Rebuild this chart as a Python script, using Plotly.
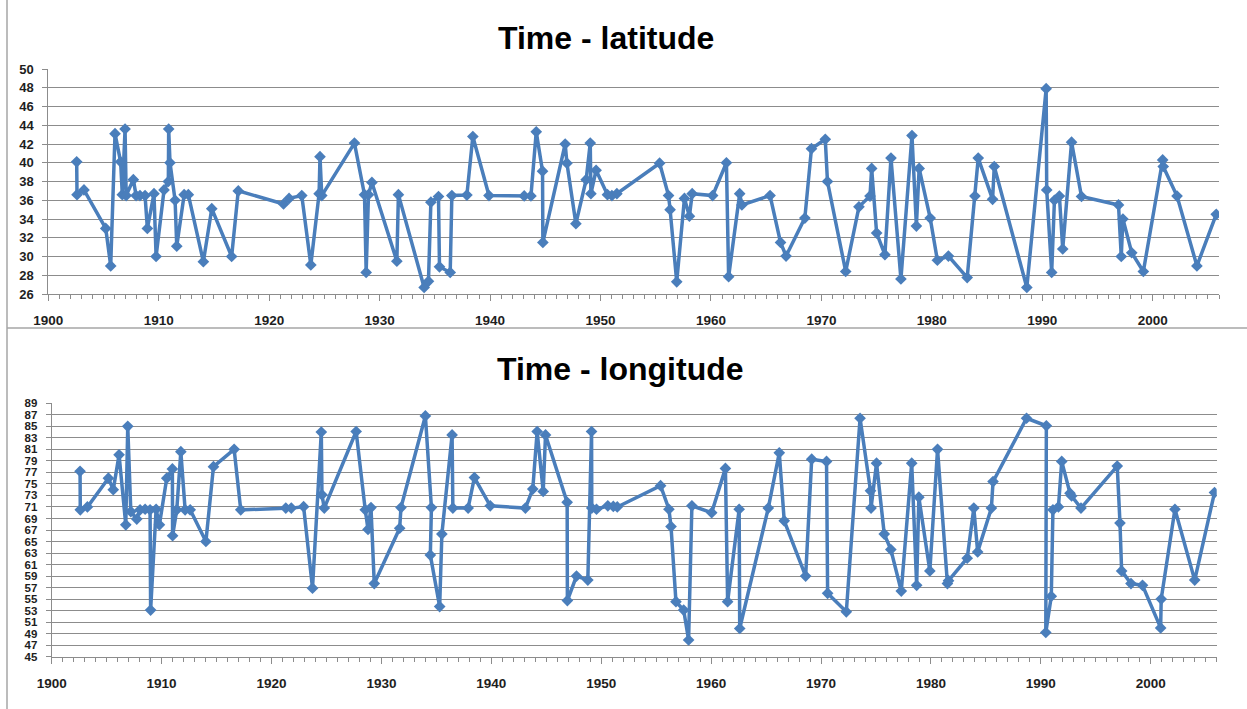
import plotly.graph_objects as go

# ---- Data ----
lat_years = [1902.57, 1902.6, 1903.23, 1905.2, 1905.65, 1906.04, 1906.55, 1906.7, 1906.95, 1907.05,
             1907.7, 1907.95, 1908.3, 1908.76, 1908.97, 1909.57, 1909.76, 1910.48, 1910.87, 1910.9,
             1911.02, 1911.48, 1911.63, 1912.3, 1912.68, 1914.04, 1914.8, 1916.6, 1917.2, 1921.3,
             1921.8, 1922.95, 1923.77, 1924.52, 1924.6, 1924.76, 1927.72, 1928.63, 1928.78, 1928.99,
             1929.3, 1931.56, 1931.7, 1934.03, 1934.42, 1934.64, 1935.33, 1935.42, 1936.39, 1936.54,
             1937.9, 1938.44, 1939.9, 1943.09, 1943.7, 1944.18, 1944.75, 1944.78, 1946.8, 1946.96,
             1947.77, 1948.7, 1949.07, 1949.13, 1949.6, 1950.63, 1951.03, 1951.48, 1955.35, 1956.16,
             1956.3, 1956.9, 1957.6, 1958.05, 1958.3, 1960.15, 1961.4, 1961.6, 1962.6, 1962.8,
             1965.35, 1966.3, 1966.8, 1968.5, 1969.1, 1970.35, 1970.55, 1972.2, 1973.4, 1974.4,
             1974.55, 1975.0, 1975.75, 1976.3, 1977.2, 1978.2, 1978.6, 1978.85, 1979.85, 1980.5,
             1981.5, 1983.2, 1983.9, 1984.2, 1985.5, 1985.65, 1988.6, 1990.35, 1990.4, 1990.85,
             1991.1, 1991.55, 1991.85, 1992.65, 1993.55, 1996.9, 1997.15, 1997.3, 1998.1, 1999.15,
             2000.9, 2000.95, 2002.2, 2004.0, 2005.75]
lat_values = [40.1, 36.6, 37.1, 33.0, 29.0, 43.1, 40.1, 36.6, 43.6, 36.5,
              38.2, 36.5, 36.5, 36.5, 33.0, 36.7, 30.0, 37.1, 38.0, 43.6,
              40.0, 36.0, 31.1, 36.6, 36.6, 29.45, 35.1, 30.0, 37.0, 35.6,
              36.2, 36.5, 29.1, 36.7, 40.65, 36.5, 42.1, 36.6, 28.3, 36.6,
              37.9, 29.5, 36.6, 26.7, 27.35, 35.8, 36.4, 28.9, 28.3, 36.5,
              36.55, 42.8, 36.5, 36.46, 36.46, 43.3, 39.1, 31.5, 42.0, 39.95,
              33.5, 38.2, 42.1, 36.7, 39.2, 36.6, 36.5, 36.7, 39.95, 36.5,
              35.0, 27.3, 36.2, 34.3, 36.7, 36.5, 40.0, 27.85, 36.7, 35.5,
              36.5, 31.5, 30.05, 34.1, 41.5, 42.5, 38.0, 28.4, 35.3, 36.45,
              39.4, 32.5, 30.2, 40.5, 27.6, 42.9, 33.25, 39.4, 34.1, 29.6,
              30.05, 27.75, 36.45, 40.5, 36.1, 39.6, 26.7, 47.9, 37.1, 28.3,
              36.0, 36.45, 30.8, 42.2, 36.4, 35.5, 30.0, 34.0, 30.4, 28.4,
              40.3, 39.6, 36.45, 29.0, 34.5]

lon_years = [1902.58, 1902.6, 1903.25, 1905.16, 1905.6, 1906.13, 1906.74, 1906.92, 1907.2, 1907.74,
             1908.04, 1908.5, 1908.95, 1909.0, 1909.5, 1909.8, 1910.47, 1910.98, 1911.0, 1911.38,
             1911.75, 1912.14, 1912.6, 1914.03, 1914.72, 1916.6, 1917.2, 1921.3, 1921.8, 1922.92,
             1923.73, 1924.53, 1924.59, 1924.8, 1927.7, 1928.53, 1928.78, 1929.05, 1929.35, 1931.66,
             1931.78, 1934.0, 1934.55, 1934.45, 1935.3, 1935.5, 1936.43, 1936.5, 1937.89, 1938.46,
             1939.9, 1943.1, 1943.77, 1944.17, 1944.72, 1944.93, 1946.9, 1946.92, 1947.75, 1948.78,
             1949.12, 1949.14, 1949.57, 1950.6, 1951.1, 1951.46, 1955.4, 1956.16, 1956.35, 1956.8,
             1957.5, 1957.95, 1958.25, 1960.05, 1961.3, 1961.5, 1962.55, 1962.6, 1965.2, 1966.2,
             1966.65, 1968.6, 1969.15, 1970.5, 1970.6, 1972.3, 1973.55, 1974.5, 1974.55, 1975.05,
             1975.75, 1976.35, 1977.3, 1978.25, 1978.7, 1978.9, 1979.9, 1980.6, 1981.5, 1981.6,
             1983.3, 1983.9, 1984.25, 1985.5, 1985.65, 1988.7, 1990.5, 1990.45, 1990.95, 1991.1,
             1991.6, 1991.9, 1992.65, 1992.8, 1993.65, 1996.95, 1997.2, 1997.35, 1998.2, 1999.25,
             2000.9, 2000.95, 2002.2, 2004.0, 2005.8]
lon_values = [77.2, 70.5, 71.0, 76.0, 74.0, 80.05, 67.9, 85.0, 70.2, 68.9,
              70.5, 70.6, 70.5, 53.1, 70.6, 67.9, 76.0, 77.6, 66.0, 70.5,
              80.6, 70.5, 70.5, 65.0, 78.0, 81.0, 70.5, 70.8, 70.8, 71.05,
              56.9, 84.0, 73.1, 70.8, 84.1, 70.5, 67.1, 70.9, 57.7, 67.3,
              70.9, 86.8, 70.9, 62.65, 53.7, 66.3, 83.5, 70.8, 70.8, 76.1,
              71.2, 70.8, 74.1, 84.1, 73.7, 83.5, 71.8, 54.75, 59.0, 58.3,
              84.1, 70.8, 70.6, 71.2, 71.1, 71.0, 74.7, 70.6, 67.6, 54.55,
              53.1, 47.9, 71.2, 70.0, 77.7, 54.55, 70.6, 49.9, 70.8, 80.4,
              68.6, 59.0, 79.3, 78.9, 56.0, 52.8, 86.4, 73.8, 70.8, 78.6,
              66.3, 63.6, 56.4, 78.6, 57.4, 72.7, 59.9, 81.0, 57.7, 58.2,
              62.1, 70.8, 63.2, 70.8, 75.4, 86.4, 85.1, 49.2, 55.5, 70.5,
              71.0, 78.9, 73.4, 72.9, 70.8, 78.1, 68.2, 59.9, 57.7, 57.4,
              50.0, 55.0, 70.6, 58.3, 73.5]

titles = ["Time - latitude", "Time - longitude"]

# ---- Styling ----
W, H = 1247, 709
LINE = "#4a7ebb"
GRID = "#8c8c8c"
TXT = "#1e1e1e"
FONT = "Liberation Sans"

def px_x(p):
    return p / W

def px_y(p):
    return 1 - p / H

fig = go.Figure()

fig.add_trace(go.Scatter(x=lat_years, y=lat_values, mode="lines+markers",
                         line=dict(color=LINE, width=3.5),
                         marker=dict(symbol="diamond", size=9, color=LINE),
                         xaxis="x", yaxis="y", showlegend=False))
fig.add_trace(go.Scatter(x=lon_years, y=lon_values, mode="lines+markers",
                         line=dict(color=LINE, width=3.5),
                         marker=dict(symbol="diamond", size=9, color=LINE),
                         xaxis="x2", yaxis="y2", showlegend=False))

xfont = dict(family=FONT, size=13.5, color=TXT, weight="bold")
yfont = dict(family=FONT, size=13, color=TXT, weight="bold")
yfont2 = dict(family=FONT, size=11.5, color=TXT, weight="bold")

xcommon = dict(tickmode="linear", tick0=1900, dtick=10, ticks="outside", ticklen=6, tickcolor=GRID,
               showline=True, linecolor=GRID, linewidth=1, showgrid=False, zeroline=False,
               tickfont=xfont, ticklabelstandoff=8, automargin=False,
               minor=dict(dtick=1, ticks="outside", ticklen=4, tickcolor=GRID, showgrid=False))
ycommon = dict(tickmode="linear", dtick=2, ticks="outside", ticklen=5, tickcolor=GRID,
               showline=True, linecolor=GRID, linewidth=1, showgrid=True, gridcolor=GRID,
               gridwidth=1, zeroline=False, ticklabelstandoff=6, automargin=False)

fig.update_layout(
    width=W, height=H,
    margin=dict(l=0, r=0, t=0, b=0),
    paper_bgcolor="white", plot_bgcolor="white",
    xaxis=dict(domain=[px_x(48.3), px_x(1219)], range=[1900, 2006], anchor="y", **xcommon),
    yaxis=dict(domain=[px_y(294), px_y(69)], range=[26, 50], tick0=26, anchor="x",
               tickfont=yfont, **ycommon),
    xaxis2=dict(domain=[px_x(51.7), px_x(1216.7)], range=[1900, 2006], anchor="y2", **xcommon),
    yaxis2=dict(domain=[px_y(656.7), px_y(403.3)], range=[45, 89], tick0=45, anchor="x2",
                tickfont=yfont2, **ycommon),
    annotations=[
        dict(text="<b>%s</b>" % titles[0], x=px_x(605.5), y=px_y(38), xref="paper", yref="paper",
             xanchor="center", yanchor="middle", showarrow=False,
             font=dict(family=FONT, size=32, color="black")),
        dict(text="<b>%s</b>" % titles[1], x=px_x(620.5), y=px_y(369), xref="paper", yref="paper",
             xanchor="center", yanchor="middle", showarrow=False,
             font=dict(family=FONT, size=32, color="black")),
    ],
    shapes=[
        dict(type="line", xref="paper", yref="paper", x0=px_x(7), x1=px_x(7), y0=0, y1=1,
             line=dict(color="#a6a6a6", width=1.5)),
        dict(type="line", xref="paper", yref="paper", x0=px_x(7), x1=1, y0=px_y(328), y1=px_y(328),
             line=dict(color="#a6a6a6", width=1.5)),
    ],
)

fig.write_html("out.html")
